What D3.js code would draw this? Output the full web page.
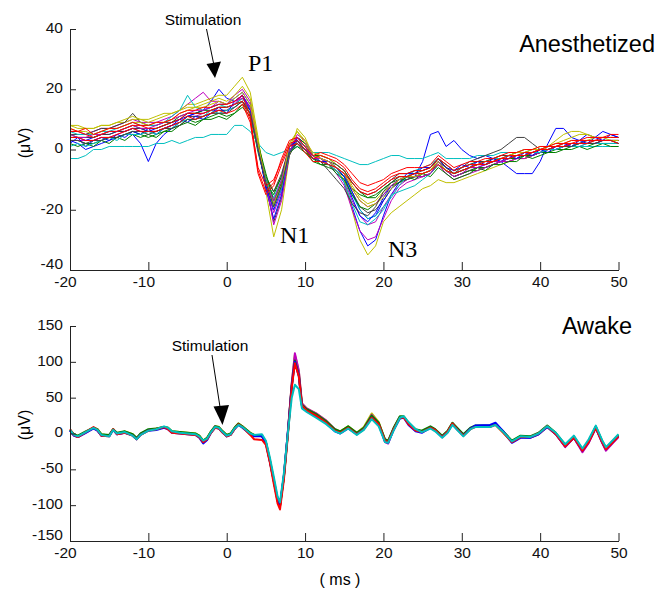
<!DOCTYPE html>
<html><head><meta charset="utf-8">
<script src="https://cdn.jsdelivr.net/npm/d3@7"></script>
<style>body{margin:0;background:#fff}svg{display:block}</style>
</head><body><svg id="c" width="670" height="590"></svg>
<script>
// ---------- DATA ----------
const xTicks = [-20, -10, 0, 10, 20, 30, 40, 50];
const topYTicks = [-40, -20, 0, 20, 40];
const botYTicks = [-150, -100, -50, 0, 50, 100, 150];

// Anesthetized: time (ms) and traces (µV)
const tTop = [-20,-19,-18,-17,-16,-15,-14,-13,-12,-11,
  -10,-9,-8,-7,-6,-5,-4,-3,-2,-1,
  0,1,2,3,4,5,6,7,8,9,
  10,11,12,13,14,15,16,17,18,19,
  20,21,22,23,24,25,26,27,28,29,
  30,31,32,33,34,35,36,37,38,39,
  40,41,42,43,44,45,46,47,48,49,
  50];
const anesBlue1 = [3,2,0,1,2,3,4,5,5,2,
  -4,2,5,7,9,11,12,13,16,20,
  17,16,18,14,2,-10,-18,-12,-1,4,
  2,-2,-3,-5,-7,-11,-19,-27,-32,-30,
  -22,-15,-11,-9,-9,-4,5,6,1,3,
  0,-2,-3,-2,-3,-4,-6,-8,-8,-8,
  -4,2,7,7,4,3,5,4,6,5,
  4];
const anesGreen1 = [3,3,2,2,3,4,4,5,6,5,
  4,5,6,7,8,10,9,10,11,12,
  11,12,14,11,0,-9,-14,-9,0,2,
  0,-4,-5,-6,-7,-9,-13,-15,-16,-15,
  -13,-11,-10,-10,-9,-9,-8,-5,-7,-9,
  -8,-7,-7,-6,-5,-4,-4,-3,-3,-2,
  -1,-1,0,0,1,1,1,2,2,2,
  2];
const anesCyan1 = [-3,-3,-2,0,0,1,1,1,1,1,
  1,2,2,3,2,3,4,4,5,5,
  5,8,8,6,2,-1,-2,-1,0,1,
  0,-1,-1,-1,-2,-3,-4,-5,-5,-4,
  -3,-2,-2,-3,-3,-3,-2,-1,-3,-3,
  -3,-3,-2,-2,-2,-1,-1,-1,0,0,
  0,0,0,1,1,1,1,1,1,1,
  1];
const anesMagenta1 = [6,6,5,6,7,7,8,9,10,9,
  9,9,10,11,13,15,17,19,16,16,
  15,18,20,16,2,-12,-21,-14,-1,4,
  2,-2,-3,-5,-7,-10,-17,-22,-25,-24,
  -19,-15,-12,-10,-9,-8,-7,-4,-7,-9,
  -8,-7,-6,-6,-5,-4,-4,-3,-3,-2,
  -1,0,1,1,2,2,3,3,3,3,
  3];
const anesYellow1 = [8,8,7,7,8,8,9,9,10,10,
  10,11,12,12,13,15,15,16,17,18,
  18,21,24,19,4,-14,-29,-20,-2,7,
  4,-2,-3,-5,-7,-10,-20,-30,-35,-32,
  -24,-21,-19,-17,-15,-13,-12,-10,-11,-11,
  -10,-9,-8,-7,-6,-5,-4,-3,-3,-2,
  -1,1,3,5,6,6,5,4,4,4,
  4];
const anesGray1 = [5,5,5,6,7,7,8,9,12,9,
  8,8,9,9,10,12,12,12,13,14,
  14,15,17,14,1,-12,-24,-16,-2,3,
  1,-3,-4,-5,-6,-9,-14,-19,-21,-20,
  -17,-13,-11,-10,-9,-8,-7,-4,-6,-8,
  -6,-4,-3,-2,-1,0,2,4,4,2,
  0,0,1,1,2,2,2,3,3,3,
  2];
const anesBlue2 = [4,4,3,4,5,5,6,6,7,7,
  6,7,8,9,10,11,12,13,14,15,
  15,17,19,15,1,-13,-23,-15,-1,4,
  2,-2,-3,-4,-6,-8,-14,-20,-23,-22,
  -17,-13,-10,-9,-9,-8,-7,-4,-6,-8,
  -7,-6,-6,-5,-4,-4,-3,-3,-2,-2,
  -1,0,0,1,1,2,2,2,3,3,
  3];
const anesGreen2 = [5,4,4,4,5,6,6,7,8,7,
  7,7,8,9,11,12,12,13,13,14,
  14,15,16,12,-1,-11,-15,-9,1,4,
  2,-2,-2,-3,-5,-7,-11,-14,-16,-16,
  -13,-11,-9,-9,-9,-9,-8,-5,-7,-9,
  -8,-7,-6,-6,-5,-4,-3,-3,-2,-2,
  -1,0,0,1,1,2,2,2,3,3,
  3];
const anesCyan2 = [6,5,5,5,6,6,7,8,9,8,
  8,8,9,11,13,18,14,13,14,15,
  14,15,17,13,0,-10,-16,-10,1,3,
  1,-2,-3,-4,-6,-9,-15,-20,-23,-22,
  -19,-16,-12,-9,-7,-6,-5,-3,-5,-7,
  -6,-5,-4,-4,-3,-3,-2,-2,-1,-1,
  0,0,1,1,1,2,2,2,2,2,
  2];
const anesMagenta2 = [3,3,3,3,4,4,5,6,7,6,
  6,6,7,8,9,11,11,12,13,13,
  13,15,18,14,2,-11,-25,-17,-1,5,
  3,-2,-3,-5,-8,-12,-20,-27,-30,-29,
  -23,-17,-13,-11,-10,-9,-8,-5,-8,-10,
  -9,-8,-7,-6,-5,-4,-4,-3,-3,-2,
  -1,0,0,1,1,1,2,2,2,2,
  2];
const anesYellow2 = [8,7,7,7,8,8,9,10,11,10,
  9,10,11,12,13,14,14,15,16,17,
  16,18,21,17,3,-10,-18,-11,1,6,
  3,-1,-2,-3,-5,-7,-12,-16,-18,-17,
  -14,-12,-10,-9,-8,-8,-7,-3,-6,-8,
  -7,-6,-5,-4,-3,-2,-2,-1,0,0,
  1,1,2,3,4,5,5,4,4,4,
  4];
const anesGray2 = [4,4,4,4,5,5,6,6,7,7,
  6,6,7,8,9,11,11,11,12,13,
  13,14,16,13,1,-10,-14,-8,1,3,
  0,-3,-3,-4,-5,-7,-11,-14,-15,-14,
  -12,-10,-8,-8,-7,-7,-6,-3,-5,-7,
  -6,-5,-4,-4,-3,-2,-2,-1,-1,0,
  0,1,1,1,2,2,3,3,3,3,
  3];
const anesBlue3 = [2,4,1,3,4,3,5,4,6,5,
  7,5,7,8,10,9,11,10,12,14,
  12,16,18,13,0,-12,-20,-13,1,3,
  0,-2,-4,-4,-6,-9,-16,-22,-24,-21,
  -16,-12,-11,-8,-8,-6,-6,-3,-6,-7,
  -5,-6,-4,-5,-3,-4,-2,-3,-1,-2,
  0,-1,1,2,1,3,2,4,3,5,
  4];
const anesGreen3 = [2,1,2,1,3,2,4,3,5,4,
  5,4,6,6,8,9,8,10,10,11,
  10,12,15,12,2,-8,-17,-11,-1,1,
  -1,-3,-5,-5,-8,-10,-15,-19,-20,-18,
  -15,-12,-11,-9,-10,-8,-9,-6,-8,-10,
  -9,-8,-6,-7,-5,-5,-4,-4,-2,-3,
  -2,-1,-1,0,0,1,0,1,2,1,
  1];
const anesCyan3 = [1,2,1,2,3,4,3,5,5,5,
  6,5,7,7,9,10,10,11,13,12,
  13,14,16,12,0,-10,-19,-13,-1,2,
  0,-3,-4,-5,-7,-11,-18,-24,-25,-23,
  -20,-15,-14,-13,-12,-10,-8,-5,-7,-8,
  -7,-6,-5,-5,-4,-3,-3,-2,-2,-1,
  -1,0,0,1,1,1,2,2,2,2,
  2];
const anesMagenta3 = [5,4,4,5,5,6,6,7,8,7,
  7,8,9,10,11,12,13,13,14,16,
  15,16,17,14,1,-11,-17,-10,1,4,
  1,-3,-3,-4,-6,-8,-13,-17,-19,-18,
  -15,-12,-10,-9,-9,-9,-8,-4,-7,-9,
  -8,-6,-6,-5,-4,-4,-3,-2,-2,-1,
  0,0,1,1,2,2,2,2,3,3,
  3];
const anesYellow3 = [7,6,6,5,6,7,7,8,9,9,
  8,9,9,10,12,13,14,14,15,16,
  15,17,19,15,2,-11,-19,-12,2,6,
  2,-2,-3,-4,-6,-8,-13,-17,-19,-18,
  -16,-13,-10,-9,-9,-8,-7,-4,-7,-8,
  -7,-6,-5,-4,-4,-3,-2,-1,-1,0,
  0,1,1,2,3,3,3,4,4,3,
  3];
const anesGray3 = [3,3,2,3,3,4,4,5,6,6,
  5,6,7,7,8,10,10,11,12,12,
  12,14,16,12,0,-11,-19,-12,-1,2,
  0,-3,-4,-7,-10,-13,-18,-21,-22,-19,
  -14,-11,-9,-9,-8,-7,-6,-3,-6,-8,
  -7,-6,-5,-5,-4,-3,-3,-2,-2,-1,
  0,0,1,1,1,2,2,2,3,3,
  2];
const anesRed1 = [6,6,5,4,5,6,6,7,8,8,
  7,7,8,9,10,12,12,12,13,14,
  14,15,16,10,-6,-12,-10,-4,2,3,
  0,-3,-2,-3,-4,-6,-10,-13,-14,-13,
  -11,-9,-8,-8,-7,-7,-6,-3,-5,-7,
  -6,-5,-5,-4,-4,-3,-2,-2,-1,-1,
  0,1,1,2,2,3,3,3,4,4,
  4];
const anesRed2 = [4,4,3,3,4,4,5,6,7,6,
  6,6,7,8,9,11,10,11,12,13,
  12,13,15,9,-8,-15,-12,-5,1,2,
  -1,-4,-4,-5,-6,-8,-11,-14,-15,-14,
  -12,-10,-9,-9,-8,-8,-7,-5,-7,-8,
  -7,-6,-5,-5,-4,-3,-3,-2,-2,-1,
  0,0,1,1,2,2,2,3,3,3,
  2];
const anesRed3 = [7,6,7,5,6,7,7,8,9,8,
  8,9,9,10,12,13,13,14,14,15,
  15,16,18,11,-7,-14,-11,-3,3,4,
  1,-2,-1,-2,-3,-5,-8,-11,-12,-11,
  -10,-8,-7,-6,-6,-6,-5,-2,-4,-6,
  -5,-4,-4,-3,-3,-2,-1,-1,0,0,
  1,1,2,2,3,3,4,4,4,5,
  5];
const anesTraces = [anesBlue1, anesGreen1, anesCyan1, anesMagenta1, anesYellow1, anesGray1,
  anesBlue2, anesGreen2, anesCyan2, anesMagenta2, anesYellow2, anesGray2,
  anesBlue3, anesGreen3, anesCyan3, anesMagenta3, anesYellow3, anesGray3,
  anesRed1, anesRed2, anesRed3];
const anesColors = ["#0000ff","#008000","#00bfbf","#bf00bf","#bfbf00","#404040",
  "#0000ff","#008000","#00bfbf","#bf00bf","#bfbf00","#404040",
  "#0000ff","#008000","#00bfbf","#bf00bf","#bfbf00","#404040",
  "#ff0000","#ff0000","#ff0000"];

// Awake: time (ms) and traces (µV)
const tAwake = [-20,-19.5,-19,-18,-17,-16.5,-16,-15,-14.5,-14,
  -13,-12,-11.5,-11,-10,-9,-8,-7.5,-7,-6,
  -5,-4,-3.5,-3,-2.5,-2,-1.5,-1,-0.5,0,
  0.5,1,1.5,2,3,3.5,4.5,5,5.5,6,
  6.5,6.8,7.3,7.8,8.3,8.7,9.2,9.6,10.2,11.4,
  12.7,13.8,14.5,15.5,16.6,17.5,18.5,19.4,20.2,20.6,
  21.3,22.1,22.6,23.2,24.1,24.9,26,26.6,27.5,28.2,
  28.8,29.4,30.2,31.1,31.7,33.6,34.3,35.3,36.4,37.5,
  38.7,39.8,40.9,42,43.2,44.3,45.4,46.2,47.1,47.9,
  48.4,49.3,50];
const awakeGray = [5,-2,-4,2,8,5,-2,-3,6,0,
  2,-2,-7,-1,5,6,9,7,2,1,
  0,-1,-4,-11,-7,2,9,8,2,-3,
  -1,7,13,9,0,-3,-3,-12,-37,-65,
  -93,-102,-60,0,68,106,84,40,33,26,
  16,5,2,9,0,7,24,14,-9,-11,
  7,23,23,14,5,3,9,5,-4,3,
  14,7,-2,7,10,10,13,2,-11,-4,
  -5,0,10,0,-17,-5,-23,-11,9,-11,
  -21,-11,-3];
const awakeYellow = [5,-1,-4,2,8,6,-1,-3,6,0,
  3,-1,-7,-1,5,7,9,8,3,2,
  1,0,-3,-10,-6,3,10,9,3,-2,
  0,8,14,10,1,-2,-3,-12,-36,-64,
  -92,-100,-59,1,70,110,87,42,35,28,
  18,6,3,10,1,9,28,16,-9,-12,
  6,23,23,14,4,2,9,5,-4,3,
  14,7,-2,7,10,10,12,1,-12,-5,
  -6,-1,9,-1,-18,-5,-25,-12,8,-12,
  -23,-12,-4];
const awakeMagenta = [4,-3,-5,1,7,4,-3,-3,5,-1,
  1,-2,-8,-1,5,6,9,7,2,1,
  0,-1,-4,-12,-8,2,10,8,2,-4,
  -1,7,13,9,0,-3,-3,-12,-37,-64,
  -92,-100,-58,2,70,112,88,42,35,28,
  18,6,2,9,0,6,26,14,-12,-14,
  6,23,23,14,5,3,9,5,-5,2,
  14,7,-2,7,10,10,13,2,-11,-5,
  -6,-1,9,-1,-19,-6,-26,-13,8,-13,
  -24,-13,-5];
const awakeGreen = [5,-1,-3,3,8,6,-1,-2,6,1,
  3,-1,-6,0,6,7,9,8,3,2,
  1,0,-3,-10,-6,3,10,9,3,-2,
  0,8,14,10,1,-2,-4,-13,-38,-66,
  -95,-101,-61,-1,66,102,82,40,34,27,
  17,6,3,10,1,8,25,15,-8,-10,
  8,24,24,15,6,4,10,6,-3,4,
  15,8,-1,8,11,11,13,3,-10,-3,
  -4,1,11,1,-16,-4,-22,-10,10,-10,
  -20,-10,-2];
const awakeBlue = [4,-3,-5,1,7,4,-3,-4,5,-1,
  1,-3,-8,-2,4,5,8,6,1,0,
  -1,-2,-6,-14,-9,1,8,7,1,-4,
  -2,6,12,8,-1,-4,-4,-14,-39,-66,
  -94,-100,-58,2,66,100,80,38,31,24,
  14,3,0,7,-1,6,22,12,-11,-13,
  5,21,22,12,3,1,8,4,-5,2,
  13,6,-3,7,11,12,15,3,-13,-6,
  -6,-1,9,-1,-18,-6,-24,-12,8,-12,
  -22,-12,-4];
const awakeRed = [6,-2,-5,2,9,5,-3,-4,6,-1,
  1,-3,-8,-2,4,6,9,6,1,0,
  -1,-2,-5,-12,-8,1,8,7,1,-4,
  -2,6,13,9,-2,-8,-9,-16,-40,-70,
  -98,-106,-64,-3,64,98,80,39,32,25,
  15,4,1,8,-1,6,22,13,-10,-12,
  6,22,22,13,4,2,8,5,-5,3,
  14,6,-3,6,9,9,12,1,-12,-5,
  -5,0,10,-1,-18,-6,-24,-12,8,-12,
  -22,-12,-4];
const awakeCyan = [5,-2,-4,2,8,5,-2,-4,5,0,
  2,-3,-8,-2,4,6,10,8,3,1,
  0,-1,-4,-10,-7,2,9,8,2,-3,
  -1,7,12,9,0,-2,-1,-10,-33,-60,
  -88,-96,-55,0,50,68,62,35,30,22,
  13,3,0,7,-2,5,20,10,-12,-13,
  4,22,24,16,6,2,7,3,-6,1,
  12,5,-4,6,9,9,12,2,-11,-4,
  -5,0,10,1,-15,-3,-21,-8,11,-9,
  -19,-9,-1];
const awakeTraces = [awakeGray, awakeYellow, awakeMagenta, awakeGreen, awakeBlue, awakeRed, awakeCyan];
const awakeColors = ["#404040","#bfbf00","#bf00bf","#008000","#0000ff","#ff0000","#00bfbf"];

// ---------- DRAWING ----------
const svg = d3.select("#c");
const SANS = "'Liberation Sans', Arial, Helvetica, sans-serif";
const SERIF = "'Liberation Serif', 'Times New Roman', serif";

const x = d3.scaleLinear().domain([-20, 50]).range([70, 618.5]);
const yTop = d3.scaleLinear().domain([-40, 40]).range([270, 29]);
const yBot = d3.scaleLinear().domain([-150, 150]).range([541, 326]);

function drawTraces(ts, traces, colors, y, width) {
  const line = d3.line().x((d, i) => x(ts[i])).y(d => y(d));
  svg.append("g").selectAll("path").data(traces).join("path")
    .attr("d", d => line(d))
    .attr("fill", "none")
    .attr("stroke", (d, i) => colors[i])
    .attr("stroke-width", width)
    .attr("stroke-linejoin", "round");
}

function drawAxes(y, yticks, xAxisY) {
  const gx = svg.append("g").attr("transform", `translate(0,${xAxisY})`)
    .call(d3.axisBottom(x).tickValues(xTicks).tickSizeInner(-8).tickSizeOuter(0)
      .tickPadding(5.5).tickFormat(d => String(d)));
  const gy = svg.append("g").attr("transform", `translate(${x(-20)},0)`)
    .call(d3.axisLeft(y).tickValues(yticks).tickSizeInner(-6).tickSizeOuter(0)
      .tickPadding(7).tickFormat(d => String(d)));
  [gx, gy].forEach(g => {
    g.selectAll("text").attr("font-family", SANS).attr("font-size", 15.5).attr("fill", "#111");
    g.select(".domain").attr("stroke", "#222");
    g.selectAll(".tick line").attr("stroke", "#222");
  });
  gx.selectAll("text").attr("dx", d => d < 0 ? -5 : 0);
  const yMin = d3.min(yticks);
  gy.selectAll("text").attr("dy", d => d === yMin ? "-0.12em" : "0.22em");
}

function text(str, tx, ty, size, family, anchor, rotate) {
  const t = svg.append("text").text(str)
    .attr("font-family", family).attr("font-size", size)
    .attr("fill", "#000").attr("text-anchor", anchor || "start");
  if (rotate) t.attr("transform", `translate(${tx},${ty}) rotate(${rotate})`);
  else t.attr("x", tx).attr("y", ty);
  return t;
}

function arrow(x1, y1, x2, y2, tri) {
  svg.append("line").attr("x1", x1).attr("y1", y1).attr("x2", x2).attr("y2", y2)
    .attr("stroke", "#000").attr("stroke-width", 1);
  svg.append("polygon").attr("points", tri.map(p => p.join(",")).join(" ")).attr("fill", "#000");
}

// top panel
drawTraces(tTop, anesTraces, anesColors, yTop, 1);
drawAxes(yTop, topYTicks, 270);
// bottom panel
drawTraces(tAwake, awakeTraces, awakeColors, yBot, 2);
drawAxes(yBot, botYTicks, 541);

// labels
text("(μV)", 30, 143, 16, SANS, "middle", -90);
text("(μV)", 30, 425, 16, SANS, "middle", -90);
text("( ms )", 340, 585, 16, SANS, "middle");
text("Anesthetized", 655, 52, 23.5, SANS, "end");
text("Awake", 632, 334, 23.5, SANS, "end");
text("P1", 248, 71, 24, SERIF, "start");
text("N1", 280, 243, 24, SERIF, "start");
text("N3", 388, 257, 24, SERIF, "start");
text("Stimulation", 203, 25, 15.5, SANS, "middle");
text("Stimulation", 210, 351, 15.5, SANS, "middle");
arrow(206.5, 29, 213.5, 63, [[206.5, 64], [221, 61.5], [215, 78]]);
arrow(212, 355, 220, 407, [[213.5, 406.5], [229, 405], [222.5, 425]]);
</script>
</body></html>
